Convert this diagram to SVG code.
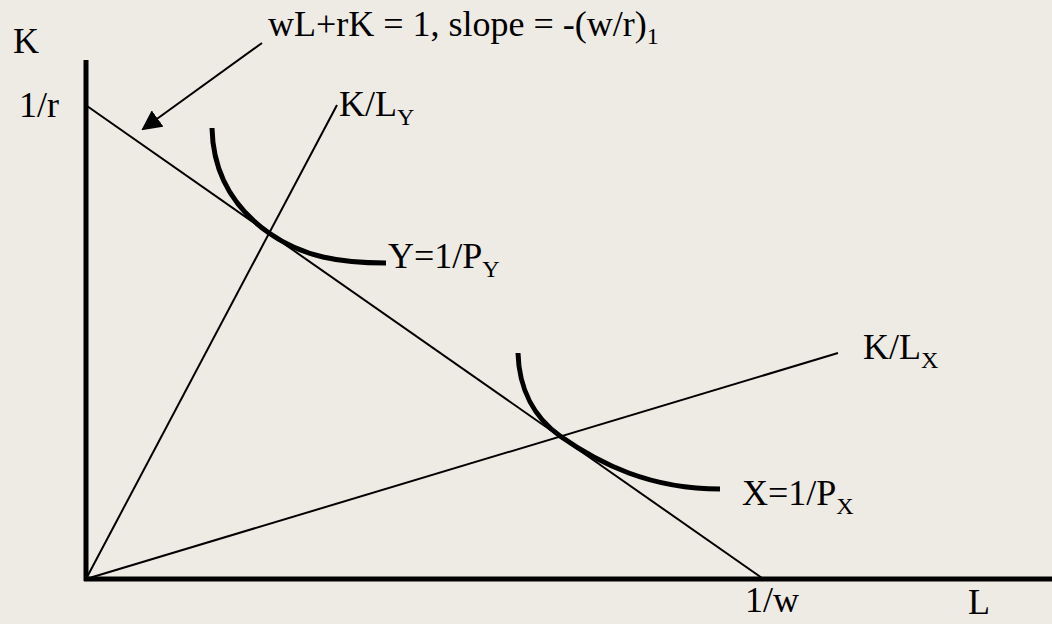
<svg xmlns="http://www.w3.org/2000/svg" width="1052" height="624" viewBox="0 0 1052 624">
<style>
text{font-family:"Liberation Serif","Times New Roman",serif;font-size:36px;fill:#000}
.sub{font-size:24px}
.thin{stroke:#000;stroke-width:2;fill:none}
.thick{stroke:#000;stroke-width:5;fill:none}
</style>
<defs>
<marker id="ah" markerWidth="10" markerHeight="10" refX="9" refY="5" orient="auto" markerUnits="strokeWidth">
<path d="M0,0 L10,5 L0,10 z" fill="#000"/>
</marker>
</defs>
<rect width="1052" height="624" fill="#EEEBE4"/>
<g id="axes">
<line class="thick" x1="86" y1="60" x2="86" y2="581"/>
<line class="thick" x1="84" y1="579" x2="1052" y2="579"/>
</g>
<g id="connectors">
<line class="thin" x1="87" y1="106" x2="762" y2="578"/>
<line class="thin" x1="86" y1="579" x2="337" y2="105"/>
<line class="thin" x1="86" y1="579" x2="838" y2="353"/>
<line class="thin" x1="262" y1="43" x2="143" y2="129" marker-end="url(#ah)"/>
</g>
<g id="curveY">
<path class="thick" d="M212,128 C213,175 235,209 269,233 C303,257 340,263 386,263"/>
</g>
<g id="curveX">
<path class="thick" d="M518,353 C519,390 535,418 560,436 C600,464 650,489 720,489"/>
</g>
<g id="labels">
<text x="13" y="53">K</text>
<text x="19" y="117">1/r</text>
<text x="268" y="36">wL+rK = 1, slope = -(w/r)<tspan class="sub" dy="8">1</tspan></text>
<text x="339" y="116">K/L<tspan class="sub" dy="9">Y</tspan></text>
<text x="388" y="268">Y=1/P<tspan class="sub" dy="9">Y</tspan></text>
<text x="863" y="359">K/L<tspan class="sub" dy="9">X</tspan></text>
<text x="742" y="505">X=1/P<tspan class="sub" dy="9">X</tspan></text>
<text x="745" y="612">1/w</text>
<text x="968" y="614">L</text>
</g>
</svg>
